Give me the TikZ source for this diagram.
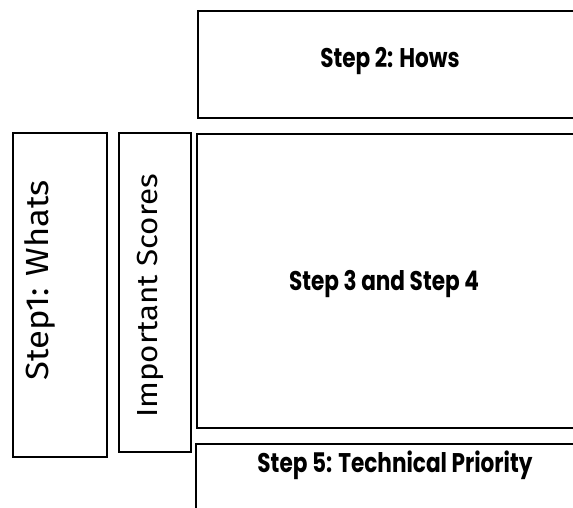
\documentclass[tikz,border=0pt]{standalone}
\usepackage{fontspec}
\setmainfont{Poppins}[FakeStretch=0.8]
\newfontfamily\handfont{Fira Sans}[FakeStretch=1.08]
\begin{document}
\begin{tikzpicture}[x=1pt,y=-1pt,
  stepbox/.style={draw,line width=2pt,inner sep=0pt},
  steptext/.style={anchor=base,inner sep=0pt,font=\bfseries\fontsize{27}{30}\selectfont},
  sidetext/.style={anchor=base,inner sep=0pt,rotate=90,font=\handfont\fontsize{30}{34}\selectfont}]
\clip (0,0) rectangle (573,508);
\node[stepbox,minimum width=392pt,minimum height=107pt] (hows) at (394,64.5) {};
\node[steptext] (howstext) at (390,68) {Step 2: Hows};
\node[stepbox,minimum width=393pt,minimum height=294pt] (rel) at (393.5,281) {};
\node[steptext] (reltext) at (384,290) {Step 3 and Step 4};
\node[stepbox,minimum width=394pt,minimum height=90pt] (prio) at (393,489) {};
\node[steptext] (priotext) at (395,472) {Step 5: Technical Priority};
\node[stepbox,minimum width=94pt,minimum height=324pt] (whats) at (60,295) {};
\node[sidetext,font=\handfont\fontsize{32}{34}\selectfont] (whatstext) at (48,280) {Step1: Whats};
\node[stepbox,minimum width=72pt,minimum height=319pt] (scores) at (155,292.5) {};
\node[sidetext,font=\handfont\fontsize{29}{34}\selectfont] (scorestext) at (157,296) {Important Scores};
\end{tikzpicture}
\end{document}
